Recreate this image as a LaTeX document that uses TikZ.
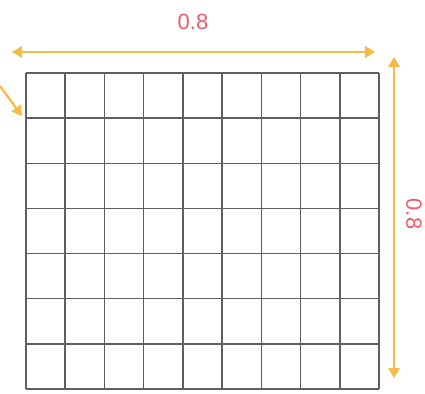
\documentclass[tikz,border=0pt]{standalone}
\usepackage{fontspec}
\setsansfont{Liberation Sans}
\usetikzlibrary{arrows.meta,positioning,calc}
\definecolor{dimorange}{RGB}{246,186,70}
\definecolor{dimred}{RGB}{236,92,104}
\definecolor{gridgray}{RGB}{95,95,95}
\tikzset{
  cellline/.style={draw=gridgray, line width=1.5pt},
  dimarr/.style={draw=dimorange, line width=2.2pt, {Triangle[length=3.5mm,width=4mm]}-{Triangle[length=3.5mm,width=4mm]}},
  ptrarr/.style={draw=dimorange, line width=2.2pt, -{Triangle[length=3.5mm,width=4mm]}},
  dimlabel/.style={text=dimred, font=\sffamily\fontsize{22}{26}\selectfont, inner sep=0pt},
}

\begin{document}
\begin{tikzpicture}[x=1pt, y=-1pt]
\useasboundingbox (0,0) rectangle (425,393);
% grid of 9 x 7 cells
\coordinate (nw) at (26,73);
\coordinate (se) at (379,389);
\foreach \i in {0,...,9}
  \draw[cellline] ($(nw)!\i/9!(nw -| se)$) -- ($(nw |- se)!\i/9!(se)$);
\foreach \j in {0,...,7}
  \draw[cellline] ($(nw)!\j/7!(nw |- se)$) -- ($(nw -| se)!\j/7!(se)$);
% width
\coordinate (wl) at (12,52);
\coordinate (wr) at (375,52);
\draw[dimarr] (wl) -- (wr);
\node[dimlabel] (wlab) at (193,22) {0.8};
% height
\coordinate (ht) at (394,57);
\coordinate (hb) at (394,378);
\draw[dimarr] (ht) -- (hb);
\node[dimlabel, rotate=-90] (hlab) at (414,214) {0.8};
% pointer to corner
\coordinate (ps) at (0,86);
\coordinate (pe) at (22,116);
\draw[ptrarr] (ps) -- (pe);
\end{tikzpicture}
\end{document}
